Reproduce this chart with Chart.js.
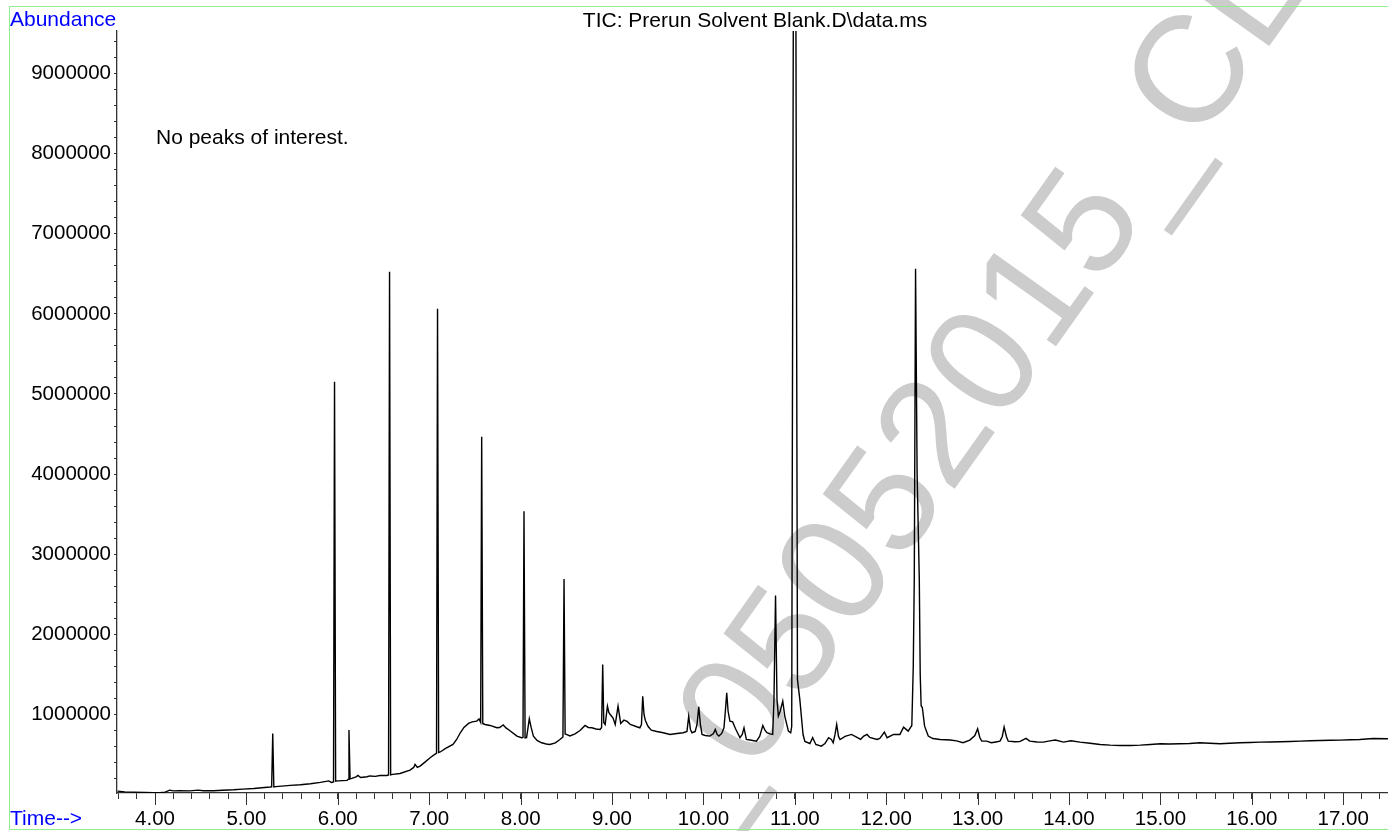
<!DOCTYPE html>
<html>
<head>
<meta charset="utf-8">
<title>TIC: Prerun Solvent Blank.D\data.ms</title>
<script src="https://cdn.jsdelivr.net/npm/chart.js@4.4.1/dist/chart.umd.min.js"></script>
<style>
  html, body { margin: 0; padding: 0; background: #fff; overflow: hidden; }
</style>
</head>
<body>
<canvas id="tic" width="1388" height="831"></canvas>
<script>
// retention time (min) and abundance
var rt = [
  3.59, 3.67, 3.76, 3.89, 3.98, 4.05, 4.11, 4.16, 4.20, 4.27, 4.38, 4.47, 4.53, 4.64, 4.74, 4.86, 4.96, 5.08, 5.17, 5.26,
  5.276, 5.288, 5.300, 5.32, 5.48, 5.59, 5.70, 5.81, 5.90, 5.93, 5.953, 5.964, 5.976, 6.00, 6.10, 6.112, 6.122, 6.134, 6.153, 6.20,
  6.22, 6.25, 6.32, 6.35, 6.41, 6.46, 6.535, 6.555, 6.566, 6.578, 6.60, 6.68, 6.79, 6.83, 6.845, 6.87, 6.90, 6.95, 7.01, 7.06,
  7.080, 7.091, 7.103, 7.12, 7.18, 7.26, 7.30, 7.34, 7.38, 7.43, 7.47, 7.52, 7.545, 7.563, 7.574, 7.586, 7.61, 7.665, 7.74, 7.77,
  7.81, 7.84, 7.88, 7.96, 8.01, 8.026, 8.037, 8.049, 8.065, 8.095, 8.115, 8.14, 8.18, 8.23, 8.28, 8.32, 8.38, 8.43, 8.463, 8.475,
  8.487, 8.50, 8.54, 8.595, 8.65, 8.705, 8.74, 8.78, 8.825, 8.87, 8.886, 8.898, 8.910, 8.925, 8.95, 8.965, 8.98, 9.01, 9.035, 9.066,
  9.095, 9.13, 9.165, 9.20, 9.27, 9.305, 9.322, 9.336, 9.350, 9.365, 9.395, 9.43, 9.49, 9.56, 9.635, 9.71, 9.78, 9.82, 9.839, 9.858,
  9.875, 9.91, 9.93, 9.949, 9.967, 9.985, 10.02, 10.07, 10.11, 10.13, 10.15, 10.17, 10.20, 10.225, 10.24, 10.255, 10.27, 10.29, 10.32, 10.35,
  10.40, 10.425, 10.444, 10.47, 10.51, 10.58, 10.615, 10.65, 10.675, 10.695, 10.73, 10.758, 10.772, 10.789, 10.805, 10.82, 10.84, 10.868, 10.89, 10.93,
  10.955, 10.966, 10.990, 11.005, 11.029, 11.055, 11.09, 11.11, 11.165, 11.195, 11.23, 11.29, 11.33, 11.37, 11.40, 11.42, 11.44, 11.458, 11.478, 11.495,
  11.55, 11.62, 11.66, 11.72, 11.75, 11.79, 11.82, 11.90, 11.93, 11.98, 12.01, 12.08, 12.15, 12.19, 12.24, 12.28, 12.296, 12.307, 12.321, 12.338,
  12.362, 12.372, 12.382, 12.395, 12.42, 12.46, 12.51, 12.59, 12.70, 12.77, 12.84, 12.915, 12.97, 13.00, 13.024, 13.045, 13.10, 13.15, 13.20, 13.245,
  13.27, 13.29, 13.315, 13.335, 13.41, 13.46, 13.53, 13.57, 13.65, 13.72, 13.79, 13.85, 13.94, 14.02, 14.12, 14.23, 14.34, 14.45, 14.56, 14.67,
  14.78, 14.89, 15.00, 15.10, 15.21, 15.32, 15.43, 15.54, 15.65, 15.76, 15.87, 15.98, 16.09, 16.20, 16.31, 16.42, 16.53, 16.64, 16.75, 16.86,
  16.97, 17.08, 17.18, 17.33, 17.49
];
var tic = [
  44000, 34000, 31000, 27000, 24000, 25000, 31000, 56000, 46000, 49000, 46000, 56000, 49000, 49000, 55000, 61000, 69000, 77000, 86000, 94000,
  96000, 763000, 96000, 99000, 115000, 123000, 136000, 152000, 171000, 152000, 158000, 5152000, 168000, 171000, 177000, 190000, 807000, 196000, 202000, 221000,
  239000, 214000, 223000, 233000, 227000, 239000, 239000, 246000, 6524000, 246000, 252000, 264000, 306000, 339000, 377000, 339000, 355000, 402000, 460000, 501000,
  514000, 6063000, 526000, 532000, 576000, 626000, 688000, 772000, 838000, 888000, 907000, 917000, 944000, 900000, 4467000, 888000, 875000, 863000, 834000, 838000,
  869000, 832000, 800000, 730000, 710000, 713000, 3535000, 707000, 710000, 946000, 838000, 730000, 676000, 647000, 632000, 626000, 645000, 688000, 720000, 2690000,
  757000, 751000, 732000, 759000, 800000, 863000, 838000, 834000, 819000, 813000, 838000, 1624000, 900000, 875000, 1104000, 1025000, 1000000, 959000, 875000, 1104000,
  888000, 929000, 913000, 875000, 847000, 834000, 875000, 1228000, 1000000, 925000, 850000, 804000, 788000, 772000, 751000, 763000, 772000, 788000, 979000, 813000,
  772000, 788000, 875000, 1096000, 875000, 751000, 738000, 730000, 763000, 813000, 751000, 730000, 763000, 834000, 1040000, 1271000, 1040000, 917000, 907000, 825000,
  710000, 751000, 834000, 688000, 682000, 667000, 726000, 863000, 800000, 772000, 757000, 751000, 1187000, 2484000, 1187000, 979000, 1040000, 1166000, 979000, 792000,
  772000, 850000, 13000000, 13000000, 1435000, 1185000, 750000, 663000, 638000, 710000, 626000, 605000, 638000, 710000, 688000, 647000, 751000, 875000, 726000, 688000,
  726000, 751000, 726000, 688000, 726000, 751000, 713000, 688000, 700000, 779000, 710000, 751000, 751000, 842000, 792000, 863000, 1602000, 2690000, 6562000, 4000000,
  2680000, 1500000, 1110000, 1087000, 854000, 730000, 700000, 688000, 682000, 670000, 647000, 680000, 738000, 822000, 713000, 667000, 667000, 647000, 657000, 667000,
  726000, 844000, 726000, 667000, 660000, 661000, 701000, 667000, 657000, 655000, 670000, 682000, 655000, 672000, 655000, 641000, 626000, 617000, 613000, 613000,
  617000, 626000, 635000, 632000, 635000, 638000, 647000, 641000, 635000, 641000, 647000, 651000, 655000, 657000, 660000, 663000, 667000, 672000, 676000, 678000,
  680000, 685000, 688000, 701000, 697000
];

// axis ranges, tick steps and labelled ticks
var xMin = 3.584, xMax = 17.49, xStep = 0.2;
var yMin = 20000, yMax = 9530000, yStep = 200000;
var xMajor = [4, 5, 6, 7, 8, 9, 10, 11, 12, 13, 14, 15, 16, 17];
var yMajor = [1000000, 2000000, 3000000, 4000000, 5000000, 6000000, 7000000, 8000000, 9000000];

var chartTitle = "TIC: Prerun Solvent Blank.D\\data.ms";
var yTitle = "Abundance";
var xTitle = "Time-->";
var note = "No peaks of interest.";
var wmPrefix = "CL_";
var wmText = "05052015_CL";

var FONT = '"Liberation Sans", Arial, Helvetica, sans-serif';

var points = rt.map(function(t, i) { return { x: t, y: tic[i] }; });

function isMajor(list, v) {
  for (var i = 0; i < list.length; i++) {
    if (Math.abs(list[i] - v) < 1e-6 * Math.max(1, Math.abs(v))) return true;
  }
  return false;
}

// ticks every step between min and max (chart.js re-spaces them otherwise)
function stepTicks(min, max, step) {
  var out = [];
  for (var k = Math.ceil(min / step - 1e-9); k * step <= max + 1e-9; k++) {
    out.push({ value: Math.round(k * step * 1000) / 1000 });
  }
  return out;
}

var decor = {
  id: 'decor',
  beforeDraw: function(chart) {
    var c = chart.ctx;
    c.save();
    c.fillStyle = '#fff';
    c.fillRect(0, 0, chart.width, chart.height);
    // watermark
    c.translate(752, 774);
    c.rotate(-54.6 * Math.PI / 180);
    c.font = '152px ' + FONT;
    c.letterSpacing = '1px';
    c.fillStyle = '#cccccc';
    c.textBaseline = 'alphabetic';
    c.textAlign = 'left';
    var pre = c.measureText(wmPrefix).width;
    c.fillText(wmPrefix + wmText, -pre, 0);
    c.restore();
    // green frame
    c.save();
    c.strokeStyle = '#90ee90';
    c.lineWidth = 1;
    c.beginPath();
    c.moveTo(1388, 6.5);
    c.lineTo(9.5, 6.5);
    c.lineTo(9.5, 829.5);
    c.lineTo(1388, 829.5);
    c.stroke();
    c.restore();
  },
  afterDraw: function(chart) {
    var c = chart.ctx;
    var xs = chart.scales.x;
    var b = chart.chartArea.bottom;
    c.save();
    // longer ticks at whole minutes
    c.strokeStyle = '#333';
    c.lineWidth = 1;
    xMajor.forEach(function(t) {
      var px = Math.round(xs.getPixelForValue(t)) + 0.5;
      c.beginPath();
      c.moveTo(px, b);
      c.lineTo(px, b + 12);
      c.stroke();
    });
    c.textBaseline = 'alphabetic';
    c.font = '21px ' + FONT;
    c.fillStyle = '#0000ff';
    c.textAlign = 'left';
    c.fillText(yTitle, 10, 26);
    c.fillText(xTitle, 10, 825);
    c.fillStyle = '#000';
    c.fillText(note, 156, 144);
    c.textAlign = 'center';
    c.fillText(chartTitle, 755, 27);
    c.restore();
  }
};

var ctx = document.getElementById('tic').getContext('2d');
var myChart = new Chart(ctx, {
  type: 'line',
  data: {
    datasets: [{
      label: 'TIC',
      data: points,
      borderColor: '#000',
      borderWidth: 1.4,
      pointRadius: 0,
      fill: false,
      tension: 0
    }]
  },
  options: {
    responsive: false,
    animation: false,
    events: [],
    layout: { padding: { top: 31, left: 0, right: 0, bottom: 0 } },
    plugins: {
      legend: { display: false },
      tooltip: { enabled: false },
      title: { display: false }
    },
    scales: {
      x: {
        type: 'linear',
        min: xMin,
        max: xMax,
        afterBuildTicks: function(s) { s.ticks = stepTicks(xMin, xMax, xStep); },
        afterFit: function(s) { s.height = 38; },
        border: { display: true, color: '#333', width: 1.3 },
        grid: { drawOnChartArea: false, drawTicks: true, tickLength: 6, color: '#333', lineWidth: 1 },
        ticks: {
          autoSkip: false,
          maxRotation: 0,
          padding: 8,
          color: '#000',
          font: { family: FONT, size: 20.5 },
          callback: function(v) { return isMajor(xMajor, v) ? v.toFixed(2) : ''; }
        }
      },
      y: {
        type: 'linear',
        min: yMin,
        max: yMax,
        afterBuildTicks: function(s) { s.ticks = stepTicks(yMin, yMax, yStep); },
        afterFit: function(s) { s.width = 117; },
        border: { display: true, color: '#333', width: 1.3 },
        grid: { drawOnChartArea: false, drawTicks: true, tickLength: 3, color: '#333', lineWidth: 1 },
        ticks: {
          autoSkip: false,
          padding: 3,
          color: '#000',
          font: { family: FONT, size: 20.5 },
          callback: function(v) { return isMajor(yMajor, v) ? String(v) : ''; }
        }
      }
    }
  },
  plugins: [decor]
});
</script>
</body>
</html>
